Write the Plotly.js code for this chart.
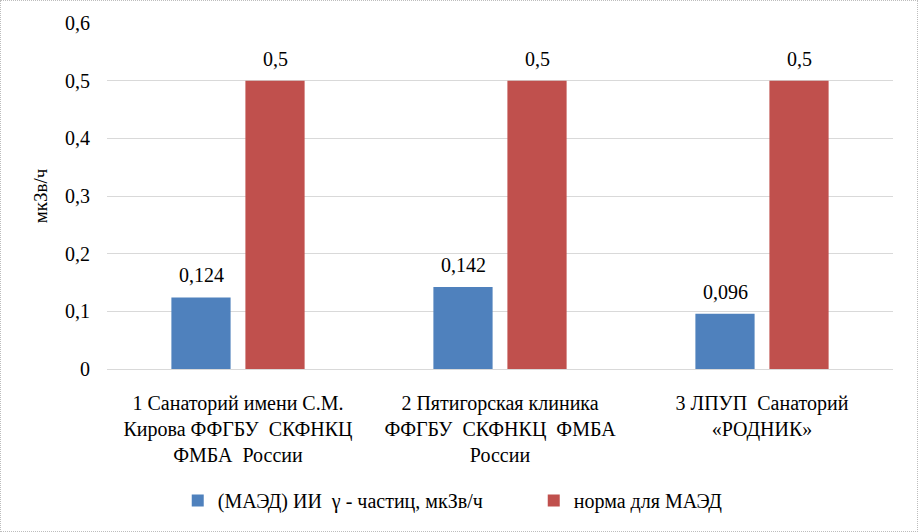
<!DOCTYPE html>
<html><head><meta charset="utf-8">
<script src="https://cdn.plot.ly/plotly-3.0.1.min.js"></script>
<style>
html,body{margin:0;padding:0;background:#fff;}
#frame{position:absolute;left:0;top:0;width:918px;height:532px;box-sizing:border-box;border:1px dotted #bdbdbd;pointer-events:none;}
</style></head>
<body>
<div id="chart" style="width:918px;height:532px;"></div>
<div id="frame"></div>
<script>
const categories = [
  "1 Санаторий имени С.М.<br>Кирова ФФГБУ  СКФНКЦ<br>ФМБА  России",
  "2 Пятигорская клиника<br>ФФГБУ  СКФНКЦ  ФМБА<br>России",
  "3 ЛПУП  Санаторий<br>«РОДНИК»"
];
const seriesNames = ["(МАЭД) ИИ  γ - частиц, мкЗв/ч", "норма для МАЭД"];
const maedValues = [0.124, 0.142, 0.096];
const normValues = [0.5, 0.5, 0.5];
const colors = ["#4F81BD", "#C0504D"];
const fmt = v => String(v).replace('.', ',');
const fam = "'Liberation Serif', 'Times New Roman', 'DejaVu Serif', serif";
const font = {family: fam, size: 20, color: "#000"};

const traces = [
  {type:'bar', name:seriesNames[0], x:categories, y:maedValues, marker:{color:colors[0]}, hoverinfo:'none'},
  {type:'bar', name:seriesNames[1], x:categories, y:normValues, marker:{color:colors[1]}, hoverinfo:'none'}
];
const annotations = [];
[maedValues, normValues].forEach((vals, i) => {
  vals.forEach((v, j) => {
    annotations.push({x: categories[j], y: v, xref:'x', yref:'y', text: fmt(v), showarrow:false,
      yanchor:'bottom', yshift:9, xshift: i === 0 ? -37 : 37, font: font});
  });
});
const layout = {
  width:918, height:532,
  margin:{l:107, r:25, t:23, b:158},
  separators:', ',
  font:font,
  paper_bgcolor:'#fff', plot_bgcolor:'#fff',
  barmode:'group', bargap:0.435, bargroupgap:0.2,
  annotations: annotations,
  showlegend:true,
  legend:{orientation:'h', x:0.09, xanchor:'left', y:-0.38, yanchor:'middle', font:font,
    itemwidth:30, entrywidth:311, entrywidthmode:'pixels', traceorder:'normal'},
  xaxis:{type:'category', tickfont:font, showgrid:false, showline:false, ticks:'', automargin:false, ticklabelstandoff:20},
  yaxis:{range:[0,0.6], dtick:0.1, tick0:0, tickformat:'.1~f', tickfont:font,
    gridcolor:'#d9d9d9', gridwidth:1, zeroline:true, zerolinecolor:'#d9d9d9', zerolinewidth:1,
    showline:false, ticks:'', ticklen:0, automargin:false, ticklabelstandoff:16,
    title:{text:'мкЗв/ч', font:{family:fam, size:19, color:'#000'}, standoff:12}}
};
Plotly.newPlot('chart', traces, layout, {staticPlot:true});
</script>
</body></html>
